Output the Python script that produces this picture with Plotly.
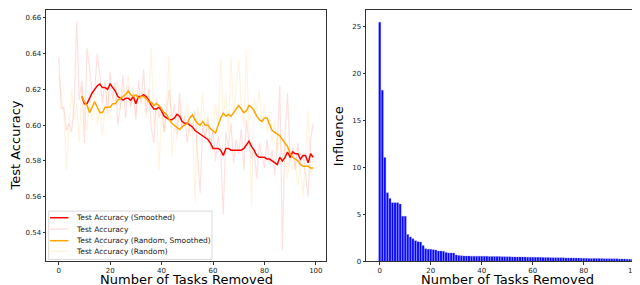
import plotly.graph_objects as go

W, H = 640, 285

# ---------------- data ----------------
tasks_removed = list(range(100))

test_acc_raw = [0.638, 0.609, 0.610, 0.597, 0.601, 0.596, 0.612, 0.658, 0.614, 0.625,
                0.590, 0.643, 0.632, 0.618, 0.620, 0.640, 0.628, 0.612, 0.625, 0.606,
                0.630, 0.615, 0.624, 0.600, 0.611, 0.628, 0.604, 0.622, 0.610, 0.618,
                0.603, 0.625, 0.612, 0.631, 0.607, 0.620, 0.598, 0.590, 0.615, 0.604,
                0.611, 0.596, 0.608, 0.620, 0.603, 0.612, 0.595, 0.618, 0.598, 0.605,
                0.590, 0.602, 0.597, 0.608, 0.583, 0.562, 0.600, 0.592, 0.604, 0.586,
                0.598, 0.580, 0.594, 0.585, 0.550, 0.596, 0.588, 0.601, 0.579, 0.592,
                0.584, 0.598, 0.575, 0.603, 0.590, 0.581, 0.587, 0.570, 0.590, 0.583,
                0.576, 0.592, 0.578, 0.586, 0.572, 0.590, 0.622, 0.530, 0.595, 0.618,
                0.580, 0.588, 0.575, 0.590, 0.578, 0.584, 0.571, 0.560, 0.592, 0.601]

test_acc_random_raw = [0.628, 0.615, 0.606, 0.575, 0.599, 0.620, 0.603, 0.612, 0.590, 0.622,
                       0.608, 0.597, 0.615, 0.602, 0.619, 0.600, 0.611, 0.594, 0.608, 0.622,
                       0.605, 0.617, 0.612, 0.625, 0.609, 0.620, 0.616, 0.628, 0.611, 0.622,
                       0.606, 0.618, 0.613, 0.620, 0.604, 0.615, 0.643, 0.600, 0.612, 0.575,
                       0.608, 0.596, 0.615, 0.639, 0.583, 0.600, 0.592, 0.610, 0.598, 0.605,
                       0.612, 0.594, 0.603, 0.557, 0.610, 0.600, 0.618, 0.594, 0.606, 0.590,
                       0.598, 0.612, 0.600, 0.637, 0.604, 0.618, 0.596, 0.638, 0.605, 0.620,
                       0.637, 0.610, 0.599, 0.642, 0.602, 0.555, 0.615, 0.608, 0.620, 0.600,
                       0.612, 0.596, 0.606, 0.590, 0.603, 0.585, 0.596, 0.578, 0.592, 0.570,
                       0.584, 0.575, 0.580, 0.566, 0.578, 0.560, 0.585, 0.608, 0.572, 0.583]

smoothed_x = list(range(9, 100))

test_acc_smoothed = [0.616, 0.612, 0.612, 0.615, 0.618, 0.620, 0.622, 0.623, 0.621, 0.621,
                     0.620, 0.623, 0.621, 0.619, 0.616, 0.615, 0.614, 0.615, 0.615, 0.614,
                     0.616, 0.612, 0.616, 0.616, 0.617, 0.616, 0.614, 0.611, 0.609, 0.609,
                     0.610, 0.608, 0.605, 0.604, 0.603, 0.603, 0.604, 0.606, 0.605, 0.602,
                     0.601, 0.601, 0.600, 0.599, 0.597, 0.596, 0.595, 0.594, 0.593, 0.592,
                     0.590, 0.587, 0.587, 0.587, 0.586, 0.583, 0.587, 0.587, 0.586, 0.586,
                     0.586, 0.586, 0.586, 0.587, 0.589, 0.591, 0.588, 0.586, 0.583, 0.582,
                     0.582, 0.582, 0.581, 0.581, 0.580, 0.579, 0.578, 0.582, 0.580, 0.582,
                     0.585, 0.582, 0.585, 0.584, 0.584, 0.581, 0.583, 0.583, 0.579, 0.584,
                     0.582]

test_acc_random_smoothed = [0.616, 0.613, 0.611, 0.607, 0.610, 0.613, 0.610, 0.607, 0.607, 0.610,
                            0.610, 0.610, 0.612, 0.612, 0.614, 0.615, 0.616, 0.617, 0.619, 0.617,
                            0.616, 0.617, 0.615, 0.616, 0.616, 0.615, 0.613, 0.613, 0.611, 0.612,
                            0.611, 0.609, 0.607, 0.606, 0.603, 0.601, 0.600, 0.599, 0.5975, 0.599,
                            0.600, 0.601, 0.604, 0.6057, 0.603, 0.601, 0.600, 0.602, 0.600, 0.600,
                            0.598, 0.597, 0.5956, 0.600, 0.604, 0.6066, 0.605, 0.606, 0.605, 0.607,
                            0.609, 0.611, 0.609, 0.607, 0.608, 0.611, 0.610, 0.608, 0.605, 0.603,
                            0.602, 0.604, 0.604, 0.600, 0.597, 0.596, 0.595, 0.594, 0.592, 0.590,
                            0.588, 0.584, 0.582, 0.581, 0.580, 0.578, 0.577, 0.577, 0.577, 0.576,
                            0.576]

influence = [25.45, 18.2, 11.05, 7.3, 6.7, 6.25, 6.25, 6.25, 6.1, 4.8,
             4.8, 2.85, 2.6, 2.4, 2.2, 2.1, 2.05, 1.7, 1.35, 1.3,
             1.3, 1.25, 1.2, 1.1, 1.1, 1.08, 0.95, 0.9, 0.9, 0.88,
             0.68, 0.62, 0.6, 0.58, 0.57, 0.57, 0.56, 0.56, 0.55, 0.55,
             0.55, 0.54, 0.54, 0.53, 0.53, 0.52, 0.51, 0.51, 0.50, 0.50,
             0.49, 0.49, 0.48, 0.48, 0.47, 0.47, 0.46, 0.46, 0.45, 0.45,
             0.44, 0.44, 0.43, 0.43, 0.42, 0.41, 0.41, 0.40, 0.40, 0.39,
             0.39, 0.38, 0.38, 0.37, 0.37, 0.36, 0.36, 0.35, 0.35, 0.34,
             0.33, 0.33, 0.32, 0.32, 0.31, 0.31, 0.30, 0.30, 0.29, 0.29,
             0.28, 0.28, 0.27, 0.27, 0.26, 0.25, 0.25, 0.24, 0.24, 0.23]

legend_labels = ["Test Accuracy (Smoothed)", "Test Accuracy",
                 "Test Accuracy (Random, Smoothed)", "Test Accuracy (Random)"]
legend_colors = ["#ff0000", "rgba(255,0,0,0.12)", "#ffa500", "rgba(255,165,0,0.12)"]

left_yticks = [0.54, 0.56, 0.58, 0.60, 0.62, 0.64, 0.66]
right_yticks = [0, 5, 10, 15, 20, 25]
xticks = [0, 20, 40, 60, 80, 100]

# ---------------- figure ----------------
FONT = "DejaVu Sans"
fig = go.Figure()

fig.add_trace(go.Scatter(x=tasks_removed, y=test_acc_raw, mode="lines",
                         line=dict(color=legend_colors[1], width=1.2), showlegend=False,
                         xaxis="x", yaxis="y"))
fig.add_trace(go.Scatter(x=tasks_removed, y=test_acc_random_raw, mode="lines",
                         line=dict(color=legend_colors[3], width=1.2), showlegend=False,
                         xaxis="x", yaxis="y"))
fig.add_trace(go.Scatter(x=smoothed_x, y=test_acc_smoothed, mode="lines",
                         line=dict(color=legend_colors[0], width=1.5), showlegend=False,
                         xaxis="x", yaxis="y"))
fig.add_trace(go.Scatter(x=smoothed_x, y=test_acc_random_smoothed, mode="lines",
                         line=dict(color=legend_colors[2], width=1.5), showlegend=False,
                         xaxis="x", yaxis="y"))

fig.add_trace(go.Bar(x=tasks_removed, y=influence, marker=dict(color="#0000ff",
                     line=dict(color="rgba(120,120,255,0.9)", width=0.4)),
                     showlegend=False, xaxis="x2", yaxis="y2"))

def px(x):
    return x / W

def py(y):
    return 1 - y / H

axis_common = dict(showline=True, mirror=True, linecolor="#333", linewidth=1,
                   ticks="outside", ticklen=2.5, tickwidth=0.8, tickcolor="#333",
                   showgrid=False, zeroline=False,
                   tickfont=dict(family=FONT, size=7, color="#222"))

fig.update_layout(
    width=W, height=H,
    margin=dict(l=0, r=0, t=0, b=0),
    paper_bgcolor="white", plot_bgcolor="white",
    bargap=0.2,
    xaxis=dict(domain=[px(38), px(318)], range=[-4.95, 103.95], tickvals=xticks,
               anchor="y", **axis_common),
    yaxis=dict(domain=[py(257), py(2)], range=[0.5238, 0.6644], tickvals=left_yticks,
               tickformat=".2f", anchor="x", **axis_common),
    xaxis2=dict(domain=[px(358), px(638)], range=[-5.39, 104.39], tickvals=xticks,
                anchor="y2", **axis_common),
    yaxis2=dict(domain=[py(257), py(2)], range=[0, 26.75], tickvals=right_yticks,
                anchor="x2", **axis_common),
)

annotations = [
    dict(text="Number of Tasks Removed", x=px(178), y=py(275.5), xref="paper", yref="paper",
         showarrow=False, font=dict(family=FONT, size=13, color="black"),
         xanchor="center", yanchor="middle", borderpad=0),
    dict(text="Number of Tasks Removed", x=px(499), y=py(275.5), xref="paper", yref="paper",
         showarrow=False, font=dict(family=FONT, size=13, color="black"),
         xanchor="center", yanchor="middle", borderpad=0),
    dict(text="Test Accuracy", x=px(7.5), y=py(140), xref="paper", yref="paper",
         showarrow=False, textangle=-90, font=dict(family=FONT, size=13, color="black"),
         xanchor="center", yanchor="middle", borderpad=0),
    dict(text="Influence", x=px(330), y=py(130), xref="paper", yref="paper",
         showarrow=False, textangle=-90, font=dict(family=FONT, size=13, color="black"),
         xanchor="center", yanchor="middle", borderpad=0),
]

shapes = [
    # left legend frame
    dict(type="rect", xref="paper", yref="paper", x0=px(40.7), x1=px(204), y0=py(255), y1=py(206),
         line=dict(color="#d0d0d0", width=0.8), fillcolor="rgba(255,255,255,0.8)", layer="above"),
    # right empty legend box
    dict(type="rect", xref="paper", yref="paper", x0=px(629.5), x1=px(635), y0=py(11), y1=py(5.5),
         line=dict(color="#d0d0d0", width=0.8), fillcolor="rgba(255,255,255,0.8)", layer="above"),
]

row_y = [212.7, 224.3, 236.0, 246.7]
for lab, col, yy in zip(legend_labels, legend_colors, row_y):
    shapes.append(dict(type="line", xref="paper", yref="paper", x0=px(42), x1=px(60.5),
                       y0=py(yy), y1=py(yy), line=dict(color=col, width=1.5), layer="above"))
    annotations.append(dict(text=lab, x=px(66), y=py(yy), xref="paper", yref="paper",
                            showarrow=False, xanchor="left", yanchor="middle",
                            font=dict(family=FONT, size=7.5, color="#222")))

fig.update_layout(annotations=annotations, shapes=shapes)

fig.write_html("out.html")
